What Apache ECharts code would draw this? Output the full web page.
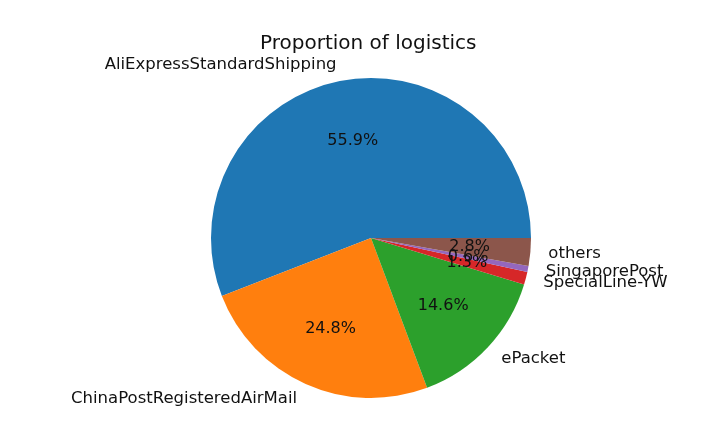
<!DOCTYPE html>
<html><head><meta charset="utf-8">
<script src="https://cdn.jsdelivr.net/npm/echarts@6/dist/echarts.min.js"></script>
<style>html,body{margin:0;padding:0;background:#fff}#c{width:716px;height:448px}</style>
</head><body><div id="c"></div>
<script>
const categories = ['AliExpressStandardShipping','ChinaPostRegisteredAirMail','ePacket','SpecialLine-YW','SingaporePost','others'];
const values = [55.9, 24.8, 14.6, 1.3, 0.6, 2.8];
const colors = ['#1f77b4','#ff7f0e','#2ca02c','#d62728','#9467bd','#8c564b'];

const R = 160;
const center = [371, 238];
const font = 'DejaVu Sans';
const data = categories.map((n,i)=>({name:n, value:values[i], itemStyle:{color:colors[i]}}));
const chart = echarts.init(document.getElementById('c'));
chart.setOption({
  animation:false,
  title:{text:'Proportion of logistics', left:255, top:29, textStyle:{fontFamily:font, fontSize:20, fontWeight:'normal', color:'#111'}},
  series:[
    {type:'pie', center:center, radius:[0,R], startAngle:0, clockwise:false, avoidLabelOverlap:false, silent:true,
     itemStyle:{borderWidth:0},
     labelLayout:{hideOverlap:false},
     label:{show:true, position:'outside', formatter:'{b}', fontFamily:font, fontSize:16.5, color:'#111', distanceToLabelLine:2, alignTo:'none'},
     labelLine:{show:false, length:16, length2:0},
     data:data},
    {type:'pie', center:center, radius:[0,R*1.2], startAngle:0, clockwise:false, avoidLabelOverlap:false, silent:true,
     itemStyle:{color:'transparent', borderWidth:0},
     labelLayout:{hideOverlap:false},
     label:{show:true, position:'inside', formatter:(p)=>p.value.toFixed(1)+'%', fontFamily:font, fontSize:16, color:'#111'},
     labelLine:{show:false},
     data:categories.map((n,i)=>({name:n, value:values[i]}))}
  ]
});
</script></body></html>
